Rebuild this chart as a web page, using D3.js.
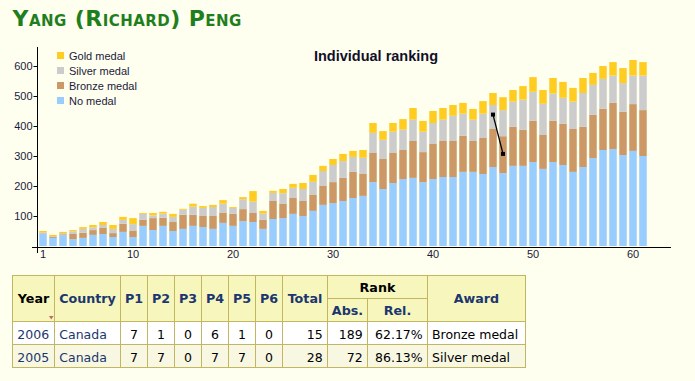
<!DOCTYPE html>
<html><head><meta charset="utf-8">
<script src="https://cdn.jsdelivr.net/npm/d3@7"></script>
<style>
html,body{margin:0;padding:0;background:#fffff0;}
svg{display:block;}
</style></head><body>
<svg id="c" width="695" height="381"></svg>
<script>
// ---------- DATA ----------
const editions = d3.range(1, 62);
const noMedal = [40,27,36,23,27,37,40,30,47,30, 67,53,67,50,57,67,63,57,77,67,
  83,80,57,90,93,107,100,117,137,143, 150,160,167,213,190,210,223,227,213,223,
  230,230,247,247,240,263,243,267,267,280, 257,280,270,247,263,293,320,323,303,317, 300];
const bronze = [2,3,3,17,17,16,20,13,27,20, 20,40,27,30,47,37,37,43,33,40,
  40,30,30,60,47,53,50,53,63,70, 77,87,73,97,100,100,97,123,100,117,
  120,120,120,103,120,127,123,130,120,137, 113,137,137,143,134,144,137,154,144,156, 153];
const silver = [4,3,4,9,13,9,10,14,13,23, 20,9,14,17,17,27,27,30,31,20,
  33,38,21,27,36,34,40,44,50,57, 56,50,54,67,64,71,68,71,68,70,
  71,84,74,71,81,80,87,84,101,97, 104,91,87,91,113,100,100,91,96,95, 115];
const gold = [4,4,4,4,6,8,10,13,10,20, 3,8,6,10,3,10,6,7,12,3,
  7,35,9,7,14,13,20,23,17,20, 24,20,26,33,29,29,35,39,36,40,
  39,36,36,36,42,40,43,39,45,49, 46,52,53,46,50,40,43,45,50,52, 45];
const seriesKeys = ["none","bronze","silver","gold"];
const seriesLabels = {none:"No medal", bronze:"Bronze medal", silver:"Silver medal", gold:"Gold medal"};
const xTickValues = [1,10,20,30,40,50,60];
const yTickValues = [100,200,300,400,500,600];
const rankEditions = [46,47];   // 2005, 2006
const rankAbs = [72,189];

const tblYear = ["2006","2005"];
const tblCountry = ["Canada","Canada"];
const tblP = [[7,1,0,6,1,0],[7,7,0,7,7,0]];
const tblTotal = [15,28];
const tblAbs = [189,72];
const tblRel = ["62.17%","86.13%"];
const tblAward = ["Bronze medal","Silver medal"];

// ---------- STYLE ----------
const colors = {none:"#99ccff", bronze:"#cc9966", silver:"#cccccc", gold:"#ffcc22"};
const chartFont = "'Liberation Sans', Arial, sans-serif";
const tblFont = "'DejaVu Sans', Verdana, sans-serif";
const svg = d3.select("#c");

// page title
svg.append("text").attr("x",12.5).attr("y",25.5)
  .attr("font-family",tblFont).attr("font-weight","bold").attr("font-size",22)
  .attr("letter-spacing",0.45)
  .attr("font-variant","small-caps").attr("fill","#1f7f1f")
  .text("Yang (Richard) Peng");

// ---------- CHART ----------
const rows = editions.map((e,i)=>({e, none:noMedal[i], bronze:bronze[i], silver:silver[i], gold:gold[i]}));
const stack = d3.stack().keys(seriesKeys)(rows);
const x = d3.scaleBand().domain(editions).range([38,648]).paddingInner(0.25).paddingOuter(0.125);
const y = d3.scaleLinear().domain([0,600]).range([246,66]);

const g = svg.append("g");
g.selectAll("g.s").data(stack).join("g").attr("class","s")
  .attr("fill",d=>colors[d.key])
  .selectAll("rect").data(d=>d).join("rect")
  .attr("x",d=>x(d.data.e)).attr("width",x.bandwidth())
  .attr("y",d=>y(d[1])).attr("height",d=>y(d[0])-y(d[1]));

// axes
const yAxis = d3.axisLeft(y).tickValues(yTickValues).tickSize(4).tickPadding(1);
const ya = svg.append("g").attr("transform","translate(37.5,0)").call(yAxis);
ya.select(".domain").remove();
ya.selectAll("text").attr("font-family",chartFont).attr("font-size",11).attr("fill","#1a1a3a");
ya.selectAll("line").attr("stroke","#000");
const xAxis = d3.axisBottom(x).tickValues(xTickValues).tickSize(0).tickPadding(3);
const xa = svg.append("g").attr("transform","translate(0,247.5)").call(xAxis);
xa.select(".domain").remove();
xa.selectAll("text").attr("font-family",chartFont).attr("font-size",11).attr("fill","#1a1a3a");
svg.append("line").attr("x1",32).attr("x2",671).attr("y1",247.5).attr("y2",247.5).attr("stroke","#000");
svg.append("line").attr("x1",37.5).attr("x2",37.5).attr("y1",47).attr("y2",253).attr("stroke","#000");

// chart title
svg.append("text").attr("x",376).attr("y",61).attr("text-anchor","middle")
  .attr("font-family",chartFont).attr("font-weight","bold").attr("font-size",14.5).attr("fill","#101028")
  .text("Individual ranking");

// legend
const legKeys = seriesKeys.slice().reverse();
const leg = svg.append("g").selectAll("g").data(legKeys).join("g")
  .attr("transform",(d,i)=>`translate(57,${52+i*15})`);
leg.append("rect").attr("width",7).attr("height",7).attr("fill",d=>colors[d]);
leg.append("text").attr("x",12).attr("y",7.5).attr("font-family",chartFont).attr("font-size",11)
  .attr("fill","#1a1a3a").text(d=>seriesLabels[d]);

// rank arrow
const totals = rows.map(r=>r.none+r.bronze+r.silver+r.gold);
const pts = rankEditions.map((e,i)=>[x(e)+x.bandwidth()/2, y(totals[e-1]-rankAbs[i])]);
svg.append("path").attr("d",d3.line()(pts)).attr("stroke","#000").attr("stroke-width",1.3).attr("fill","none");
svg.selectAll("rect.m").data(pts).join("rect").attr("class","m")
  .attr("x",d=>d[0]-2).attr("y",d=>d[1]-2).attr("width",4).attr("height",4).attr("fill","#000");

// ---------- TABLE ----------
const colE = [12.5,54.5,120.5,147.5,174.5,201.5,228.5,255.5,282.5,327.5,367.5,427.5,525.5];
const rowE = [275.5,298.5,321.5,344.5,367.5];
const border = "#c2b660", hdrBg = "#f7f7bd", hdrTxt = "#1c3670";
const tg = svg.append("g");
const hdr = [
  {t:"Year",c0:0,c1:1,r0:0,r1:2,col:"#000"},
  {t:"Country",c0:1,c1:2,r0:0,r1:2},
  ...["P1","P2","P3","P4","P5","P6"].map((t,i)=>({t,c0:2+i,c1:3+i,r0:0,r1:2})),
  {t:"Total",c0:8,c1:9,r0:0,r1:2},
  {t:"Rank",c0:9,c1:11,r0:0,r1:1,col:"#000"},
  {t:"Abs.",c0:9,c1:10,r0:1,r1:2},
  {t:"Rel.",c0:10,c1:11,r0:1,r1:2},
  {t:"Award",c0:11,c1:12,r0:0,r1:2}
];
tg.selectAll("rect.h").data(hdr).join("rect").attr("class","h")
  .attr("x",d=>colE[d.c0]).attr("y",d=>rowE[d.r0])
  .attr("width",d=>colE[d.c1]-colE[d.c0]).attr("height",d=>rowE[d.r1]-rowE[d.r0])
  .attr("fill",hdrBg).attr("stroke",border);
tg.selectAll("text.h").data(hdr).join("text").attr("class","h")
  .attr("x",d=>(colE[d.c0]+colE[d.c1])/2).attr("y",d=>(rowE[d.r0]+rowE[d.r1])/2+4.6)
  .attr("text-anchor","middle").attr("font-family",tblFont).attr("font-weight","bold")
  .attr("font-size",12.7).attr("fill",d=>d.col||hdrTxt).text(d=>d.t);
// sort marker
tg.append("path").attr("d","M49,316L53.5,316L51.25,319.5Z").attr("fill","#c86464");

const cells = [];
tblYear.forEach((yr,r)=>{
  const vals = [yr, tblCountry[r], ...tblP[r], tblTotal[r], tblAbs[r], tblRel[r], tblAward[r]];
  vals.forEach((v,c)=>{
    let anchor = "middle", tx = (colE[c]+colE[c+1])/2;
    if (c<=1 || c===11) { anchor="start"; tx = colE[c]+(c===11?4.5:4.8); }
    if (c>=8 && c<=10) { anchor="end"; tx = colE[c+1]-4.8; }
    cells.push({v, r, c, anchor, tx, col: c<=1 ? "#1c3670" : "#000"});
  });
});
tg.selectAll("rect.d").data(cells).join("rect").attr("class","d")
  .attr("x",d=>colE[d.c]).attr("y",d=>rowE[2+d.r])
  .attr("width",d=>colE[d.c+1]-colE[d.c]).attr("height",d=>rowE[3+d.r]-rowE[2+d.r])
  .attr("fill",d=>d.r===0?"#ffffff":"#f8f8e2").attr("stroke",border);
tg.selectAll("text.d").data(cells).join("text").attr("class","d")
  .attr("x",d=>d.tx).attr("y",d=>(rowE[2+d.r]+rowE[3+d.r])/2+5.5)
  .attr("text-anchor",d=>d.anchor).attr("font-family",tblFont).attr("font-size",12.5)
  .attr("fill",d=>d.col).text(d=>d.v);
</script>
</body></html>
